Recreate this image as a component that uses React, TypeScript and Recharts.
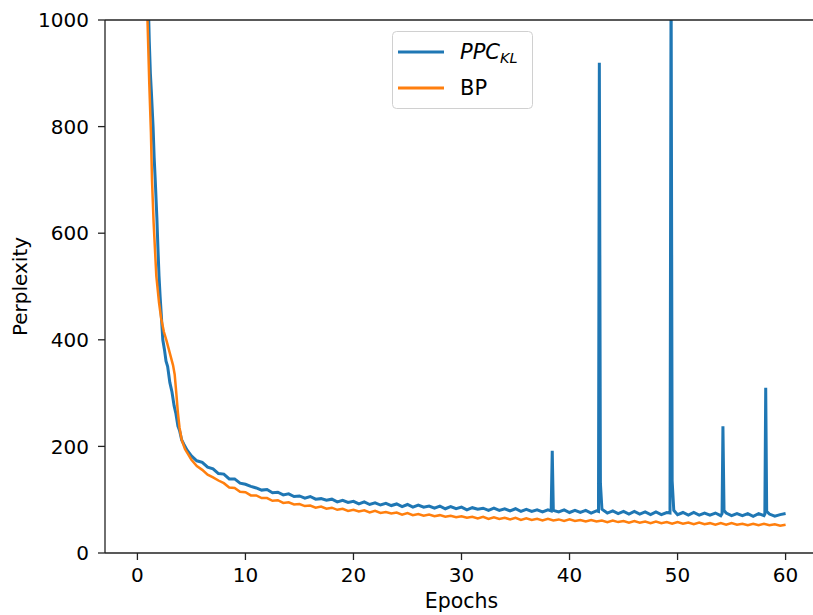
import React from 'react';
import { LineChart, Line, XAxis, YAxis, ReferenceLine, Legend } from 'recharts';

const ppcEpochs = [
  1.0, 1.1, 1.2, 1.3, 1.45, 1.55, 1.65, 1.8, 1.9, 2.0, 2.1, 2.2, 2.35, 2.5, 2.65, 2.8, 3.0, 3.2, 3.4, 3.55, 3.75, 3.9, 4.1, 4.3, 4.6,
  5.0, 5.5, 6.0, 6.5, 7.0, 7.5, 8.0, 8.5, 9.0, 9.5, 10.0, 10.5, 11.0, 11.5, 12.0, 12.5, 13.0, 13.5, 14.0, 14.5, 15.0, 15.5,
  16.0, 16.5, 17.0, 17.5, 18.0, 18.5, 19.0, 19.5, 20.0, 20.5, 21.0, 21.5, 22.0, 22.5, 23.0, 23.5, 24.0, 24.5, 25.0, 25.5,
  26.0, 26.5, 27.0, 27.5, 28.0, 28.5, 29.0, 29.5, 30.0, 30.5, 31.0, 31.5, 32.0, 32.5, 33.0, 33.5, 34.0, 34.5, 35.0, 35.5,
  36.0, 36.5, 37.0, 37.5, 38.0, 38.3, 38.4, 38.5, 39.0, 39.5, 40.0, 40.5, 41.0, 41.5, 42.0, 42.5, 42.68, 42.76, 42.86, 43.0,
  43.5, 44.0, 44.5, 45.0, 45.5, 46.0, 46.5, 47.0, 47.5, 48.0, 48.5, 49.0, 49.3, 49.4, 49.5, 49.65, 50.0, 50.5, 51.0, 51.5,
  52.0, 52.5, 53.0, 53.5, 54.0, 54.12, 54.2, 54.3, 54.5, 55.0, 55.5, 56.0, 56.5, 57.0, 57.5, 58.0, 58.08, 58.16, 58.25,
  58.5, 59.0, 59.5, 60.0,
];
const ppcValues = [
  1040, 960, 900, 862, 800, 742, 700, 630, 572, 520, 482, 450, 400, 382, 360, 350, 320, 302, 276, 263, 238, 230, 212, 204, 193,
  182, 173, 170, 161, 158, 149, 148, 139, 139, 131, 129, 125, 122, 118, 119, 113, 114, 109, 111, 106, 107, 103,
  106, 101, 102, 99, 101, 96, 99, 95, 97, 92, 96, 91, 94, 90, 93, 89, 92, 87, 91, 86,
  90, 86, 88, 84, 88, 83, 87, 83, 86, 81, 85, 82, 84, 80, 84, 80, 83, 79, 83, 78,
  82, 78, 81, 77, 81, 79, 192, 80, 77, 81, 76, 80, 76, 80, 75, 79, 78, 920, 130, 82,
  75, 79, 74, 78, 73, 78, 73, 77, 72, 77, 72, 76, 75, 1100, 135, 80, 72, 76, 71, 76,
  71, 75, 71, 75, 70, 74, 238, 80, 75, 70, 74, 70, 74, 69, 74, 70, 73, 310, 78,
  73, 69, 72, 74,
];

const bpEpochs = [
  0.92, 1.1, 1.25, 1.35, 1.5, 1.75, 2.0, 2.2, 2.45, 2.7, 3.0, 3.3, 3.45, 3.6, 3.75, 3.9, 4.1, 4.4, 4.7,
  5.0, 5.5, 6.0, 6.5, 7.0, 7.5, 8.0, 8.5, 9.0, 9.5, 10.0, 10.5, 11.0, 11.5, 12.0, 12.5, 13.0, 13.5, 14.0, 14.5, 15.0, 15.5,
  16.0, 16.5, 17.0, 17.5, 18.0, 18.5, 19.0, 19.5, 20.0, 20.5, 21.0, 21.5, 22.0, 22.5, 23.0, 23.5, 24.0, 24.5, 25.0, 25.5,
  26.0, 26.5, 27.0, 27.5, 28.0, 28.5, 29.0, 29.5, 30.0, 30.5, 31.0, 31.5, 32.0, 32.5, 33.0, 33.5, 34.0, 34.5, 35.0, 35.5,
  36.0, 36.5, 37.0, 37.5, 38.0, 38.5, 39.0, 39.5, 40.0, 40.5, 41.0, 41.5, 42.0, 42.5, 43.0, 43.5, 44.0, 44.5, 45.0, 45.5,
  46.0, 46.5, 47.0, 47.5, 48.0, 48.5, 49.0, 49.5, 50.0, 50.5, 51.0, 51.5, 52.0, 52.5, 53.0, 53.5, 54.0, 54.5, 55.0, 55.5,
  56.0, 56.5, 57.0, 57.5, 58.0, 58.5, 59.0, 59.5, 60.0,
];
const bpValues = [
  1010, 880, 790, 700, 620, 520, 470, 440, 415, 398, 375, 352, 335, 300, 263, 235, 212, 195, 185,
  175, 163, 156, 147, 142, 136, 131, 123, 122, 115, 114, 108, 108, 103, 103, 98, 99, 94, 95, 91, 92, 88,
  89, 85, 87, 83, 85, 81, 83, 79, 81, 78, 80, 76, 79, 75, 77, 74, 76, 72, 75, 71,
  73, 70, 72, 69, 71, 68, 70, 67, 69, 66, 68, 65, 68, 64, 67, 64, 66, 63, 66, 62,
  65, 62, 64, 61, 64, 61, 63, 60, 63, 60, 62, 59, 62, 59, 61, 58, 61, 58, 60, 57,
  60, 57, 59, 56, 59, 56, 58, 55, 58, 55, 57, 54, 57, 54, 56, 53, 56, 53, 56, 53,
  55, 52, 55, 52, 55, 52, 54, 51, 53,
];

const xTicks = [0, 10, 20, 30, 40, 50, 60];
const yTicks = [0, 200, 400, 600, 800, 1000];

const ppcData = ppcEpochs.map((x, i) => ({ x, y: ppcValues[i] }));
const bpData = bpEpochs.map((x, i) => ({ x, y: bpValues[i] }));

const FONT = 'DejaVu Sans';
const BLUE = '#1f77b4';
const ORANGE = '#ff7f0e';
const AX = '#222';

const LegendBox = () => (
  <svg width={141} height={78} style={{ display: 'block' }}>
    <rect x={0.5} y={0.5} width={140} height={77} rx={4} ry={4} fill="rgba(255,255,255,0.8)" stroke="#d0d0d0" strokeWidth={1} />
    <line x1={6} y1={21} x2={52} y2={21} stroke={BLUE} strokeWidth={2.8} />
    <text x={68} y={28} fontFamily={FONT} fontSize={21} fontStyle="italic" fill="#000">
      PPC<tspan fontSize={14.5} dy={4}>KL</tspan>
    </text>
    <line x1={6} y1={57} x2={52} y2={57} stroke={ORANGE} strokeWidth={2.8} />
    <text x={68} y={64} fontFamily={FONT} fontSize={21} fill="#000">BP</text>
  </svg>
);

const YLabel = (props: any) => {
  const vb = props.viewBox || { x: 0, y: 20, width: 105, height: 533 };
  const cx = vb.x + 20;
  const cy = vb.y + vb.height / 2;
  return (
    <text x={cx} y={cy} transform={`rotate(-90, ${cx}, ${cy})`} textAnchor="middle" dominantBaseline="central"
      fontFamily={FONT} fontSize={20} fill="#000">Perplexity</text>
  );
};

const XLabel = (props: any) => {
  const vb = props.viewBox || { x: 105, y: 553, width: 713, height: 62 };
  const cx = vb.x + vb.width / 2;
  const by = vb.y + 55;
  return (
    <text x={cx} y={by} textAnchor="middle" fontFamily={FONT} fontSize={20.5} fill="#000">Epochs</text>
  );
};

export default function App() {
  return (
    <div style={{ position: 'absolute', left: 0, top: 0, width: 813, height: 615, overflow: 'hidden', background: '#fff' }}>
      <LineChart width={818} height={615} margin={{ top: 20, right: 0, bottom: 0, left: 0 }}>
        <XAxis
          type="number"
          dataKey="x"
          domain={[-3, 63]}
          ticks={xTicks}
          allowDataOverflow
          height={62}
          tickSize={7}
          tickMargin={8}
          stroke={AX}
          axisLine={{ stroke: AX, strokeWidth: 1.3 }}
          tickLine={{ stroke: AX, strokeWidth: 1.3 }}
          tick={{ fill: '#000', fontSize: 20, fontFamily: FONT }}
          label={{ content: XLabel }}
        />
        <YAxis
          type="number"
          domain={[0, 1000]}
          ticks={yTicks}
          allowDataOverflow
          width={105}
          tickSize={7}
          tickMargin={9}
          stroke={AX}
          axisLine={{ stroke: AX, strokeWidth: 1.3 }}
          tickLine={{ stroke: AX, strokeWidth: 1.3 }}
          tick={{ fill: '#000', fontSize: 20, fontFamily: FONT }}
          label={{ content: YLabel }}
        />
        <Line data={ppcData} dataKey="y" type="linear" stroke={BLUE} strokeWidth={3} dot={false} isAnimationActive={false} />
        <Line data={bpData} dataKey="y" type="linear" stroke={ORANGE} strokeWidth={2.5} dot={false} isAnimationActive={false} />
        <ReferenceLine y={1000} stroke={AX} strokeWidth={1.3} />
        <Legend
          layout="vertical"
          verticalAlign="middle"
          align="center"
          content={() => <LegendBox />}
          wrapperStyle={{ position: 'absolute', left: 392, top: 31, width: 141, height: 78 }}
        />
      </LineChart>
    </div>
  );
}
